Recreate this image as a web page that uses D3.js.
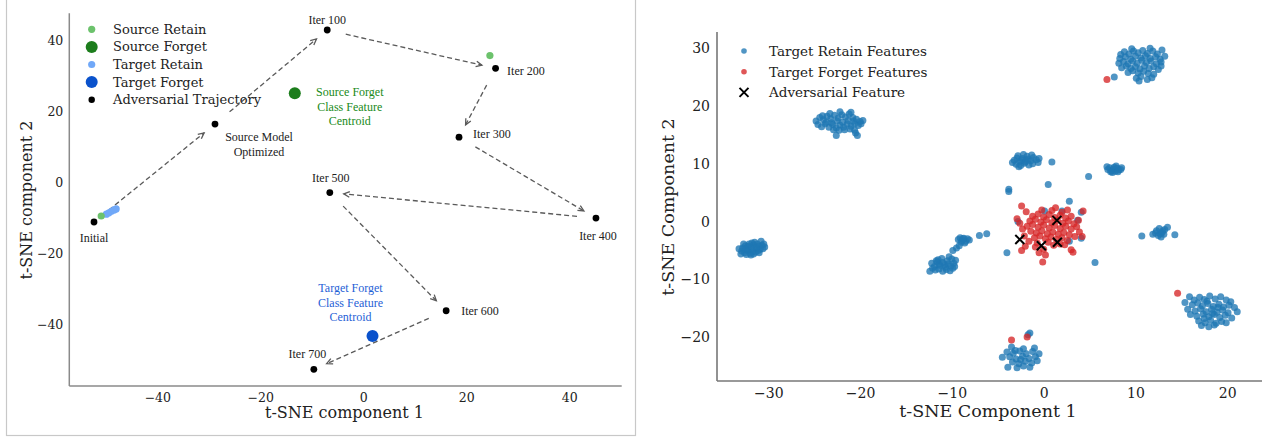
<!DOCTYPE html>
<html>
<head>
<meta charset="utf-8">
<script src="https://cdn.jsdelivr.net/npm/d3@7"></script>
<style>
  body { margin: 0; background: #fff; }
  svg { display: block; }
  text { font-family: "DejaVu Serif", serif; fill: #222; }
  .ann { font-family: "Liberation Serif", "Times New Roman", serif; font-size: 12px; }
</style>
</head>
<body>
<div id="chart"></div>
<script>
// ---------- left panel data (t-SNE coords) ----------
var trajNames = ["Initial", "Source Model Optimized", "Iter 100", "Iter 200", "Iter 300", "Iter 400", "Iter 500", "Iter 600", "Iter 700"];
var trajX = [-52.3, -28.8, -7.0, 25.7, 18.6, 45.2, -6.5, 16.1, -9.6];
var trajY = [-11.1, 16.5, 43.0, 32.2, 12.8, -10.0, -2.8, -36.1, -52.6];
var srcRetain = [[-50.9, -9.4], [24.6, 35.8]];
var tgtRetain = [[-49.9, -8.9], [-49.4, -8.5], [-48.9, -8.1], [-48.4, -7.7], [-48.0, -7.4]];
var srcForgetCentroid = [-13.3, 25.2];
var tgtForgetCentroid = [1.8, -43.2];
var leftTicks = [-40, -20, 0, 20, 40];
var leftLegend = ["Source Retain", "Source Forget", "Target Retain", "Target Forget", "Adversarial Trajectory"];

// ---------- right panel data ----------
var retainFeatures = [
  // cluster at (-32,-4.5)
  [-32.8,-4.6],[-32.5,-4.2],[-32.2,-4.9],[-31.9,-4.4],[-31.6,-4.0],[-31.3,-4.7],[-31.0,-4.3],[-30.7,-4.1],[-30.4,-4.4],
  [-32.9,-5.1],[-32.6,-5.4],[-32.3,-5.0],[-32.0,-5.5],[-31.7,-5.2],[-31.4,-5.3],[-31.2,-3.9],[-31.5,-3.6],[-31.8,-3.7],
  [-32.1,-3.9],[-30.8,-3.4],[-33.2,-4.7],[-33.0,-5.6],[-32.4,-5.7],[-31.9,-5.8],[-31.1,-5.0],[-30.9,-4.8],[-32.7,-3.9],
  [-31.3,-4.5],[-31.8,-4.8],[-32.2,-4.3],[-30.5,-3.9],[-31.6,-5.6],[-32.5,-4.8],[-31.0,-5.4],[-30.6,-4.7],
  // cluster at (-22,17)
  [-24.8,17.4],[-24.4,18.0],[-24.0,17.6],[-23.6,18.2],[-23.2,17.8],[-22.8,18.4],[-22.4,17.9],[-22.0,18.5],[-21.6,18.1],
  [-21.2,18.6],[-20.8,18.0],[-20.4,17.7],[-20.0,17.3],[-19.7,17.5],[-24.6,16.8],[-24.2,16.4],[-23.8,16.9],[-23.4,16.3],
  [-23.0,16.8],[-22.6,16.2],[-22.2,16.7],[-21.8,16.3],[-21.4,16.9],[-21.0,16.5],[-20.6,16.9],[-20.2,16.6],[-23.7,17.2],
  [-23.1,17.1],[-22.5,17.4],[-21.9,17.2],[-21.3,17.5],[-20.7,17.4],[-22.9,15.9],[-22.3,15.8],[-21.7,15.9],[-21.1,16.0],
  [-20.6,15.8],[-20.5,15.3],[-20.3,14.9],[-22.6,14.9],[-21.0,18.9],[-22.2,19.0],[-23.3,18.7],[-24.1,18.3],[-19.9,16.9],
  // cluster at (10,27.5)
  [8.4,28.9],[8.8,29.4],[9.3,29.0],[9.8,29.5],[10.3,29.2],[10.8,29.6],[11.3,29.1],[11.9,29.5],[12.4,29.0],[8.3,28.2],
  [8.9,28.5],[9.5,28.1],[10.0,28.6],[10.6,28.3],[11.1,28.7],[11.6,28.2],[12.2,28.5],[12.7,28.1],[8.2,27.4],[8.7,27.7],
  [9.2,27.3],[9.7,27.8],[10.2,27.4],[10.7,27.9],[11.2,27.5],[11.7,27.8],[12.3,27.3],[12.8,27.6],[8.5,26.6],[9.0,26.9],
  [9.5,26.5],[10.0,26.8],[10.5,26.4],[11.0,26.9],[11.5,26.5],[12.0,26.8],[12.5,26.3],[9.2,25.8],[9.7,26.1],[10.3,25.7],
  [10.9,26.0],[11.4,25.6],[12.0,25.5],[10.1,24.8],[10.6,25.1],[11.3,24.6],[10.4,24.3],[11.8,24.9],[7.7,25.0],[9.6,29.9],
  [11.6,30.0],[12.9,29.7],[13.2,28.6],[12.8,26.9],
  // cluster at (-2,10.5)
  [-3.2,10.6],[-2.9,11.0],[-2.6,10.4],[-2.3,10.9],[-2.0,10.3],[-1.7,10.8],[-1.4,10.5],[-1.1,11.1],[-0.8,10.7],[-0.5,10.9],
  [-3.0,9.9],[-2.5,9.7],[-2.1,10.1],[-1.6,9.8],[-1.2,10.0],[-2.8,11.4],[-2.2,11.6],[-1.8,11.3],[-1.3,11.5],[-3.4,10.2],
  [-0.6,10.2],[-2.4,10.6],[-1.9,10.6],[-2.7,9.5],[0.9,10.3],
  // tight cluster at (7.6,9)
  [7.0,9.0],[7.2,9.3],[7.4,8.8],[7.6,9.1],[7.8,8.7],[8.0,9.2],[8.2,8.9],[8.4,9.0],[7.3,8.6],[7.7,9.4],[7.9,9.6],[7.5,8.5],
  [8.1,8.6],[8.5,9.3],[6.9,9.5],
  // cluster at (-11,-7.5)
  [-12.2,-7.2],[-11.9,-7.8],[-11.6,-7.0],[-11.3,-7.6],[-11.0,-7.1],[-10.7,-7.9],[-10.4,-7.3],[-10.1,-7.7],[-9.8,-7.2],
  [-11.8,-8.4],[-11.4,-8.2],[-11.0,-8.6],[-10.6,-8.3],[-10.2,-8.5],[-9.9,-8.1],[-12.1,-8.1],[-11.5,-6.6],[-11.1,-6.4],
  [-10.5,-6.8],[-10.0,-6.5],[-9.7,-7.8],[-10.8,-7.5],[-11.4,-7.4],[-12.4,-8.6],[-10.3,-6.1],[-9.6,-6.7],[-11.7,-6.8],
  [-9.9,-5.0],[-9.5,-4.6],
  // small cluster at (-8.8,-3.3)
  [-9.3,-3.1],[-9.1,-2.8],[-8.9,-3.3],[-8.7,-2.9],[-8.5,-3.4],[-8.3,-3.0],[-8.1,-3.2],[-9.0,-3.6],[-8.6,-3.7],[-9.2,-4.2],
  [-8.8,-3.0],[-7.0,-2.4],[-6.2,-2.1],
  // cluster at (13,-2)
  [10.7,-2.5],[11.9,-2.2],[12.3,-1.6],[12.6,-1.2],[12.9,-1.9],[13.2,-1.4],[12.5,-2.4],[12.8,-2.7],[13.1,-2.2],[13.5,-1.0],
  [14.3,-2.3],[12.2,-2.0],[13.0,-1.6],[12.7,-2.1],
  // cluster at (18.5,-15.3)
  [15.9,-13.0],[16.4,-13.6],[17.0,-13.1],[17.5,-13.5],[18.1,-12.9],[18.7,-13.4],[19.3,-13.0],[19.9,-13.6],[20.4,-13.9],
  [16.2,-14.4],[16.8,-14.1],[17.3,-14.6],[17.9,-14.2],[18.5,-14.7],[19.1,-14.3],[19.6,-14.8],[20.2,-14.5],[20.8,-14.9],
  [15.7,-15.2],[16.5,-15.5],[17.1,-15.1],[17.7,-15.6],[18.3,-15.2],[18.9,-15.7],[19.5,-15.3],[20.1,-15.8],[21.1,-15.6],
  [16.0,-16.1],[16.7,-16.4],[17.4,-16.0],[18.0,-16.5],[18.6,-16.1],[19.2,-16.6],[19.8,-16.2],[20.5,-16.7],[16.9,-17.2],
  [17.6,-17.5],[18.2,-17.1],[18.8,-17.6],[19.4,-17.3],[17.2,-18.0],[18.0,-18.2],[18.6,-17.9],[19.9,-17.5],[15.4,-14.0],
  [17.8,-13.8],[18.4,-15.9],[19.0,-14.9],[17.5,-16.8],
  // cluster at (-2,-23.5)
  [-1.5,-19.3],[-1.7,-19.6],[-3.5,-21.7],[-2.2,-22.0],[-1.0,-21.9],[-4.0,-22.6],[-3.3,-22.8],[-2.6,-22.4],[-1.9,-22.9],
  [-1.2,-22.5],[-0.5,-22.9],[-4.5,-23.5],[-3.7,-23.4],[-3.0,-23.8],[-2.3,-23.3],[-1.6,-23.7],[-0.9,-23.4],[-3.4,-24.3],
  [-2.7,-24.6],[-2.0,-24.2],[-1.3,-24.5],[-0.7,-24.1],[-3.9,-25.2],[-2.9,-25.3],[-2.2,-25.0],[-1.5,-25.2],[-2.5,-23.9],
  [-3.1,-22.3],
  // scattered near the centre
  [-3.8,5.6],[-3.8,5.2],[0.5,6.4],[2.8,3.5],[4.9,7.8],[0.1,1.8],[2.0,1.8],[4.1,1.6],[-2.8,0.0],[3.7,0.2],[4.1,-2.9],
  [2.8,-3.4],[-4.0,-5.4],[5.6,-7.1]
];
var forgetFeatures = [
  [-2.4,2.7],[4.3,1.8],[-0.1,-7.0],[-2.4,-5.0],[-2.0,-4.3],[0.2,-5.8],[3.2,-5.3],[3.0,-4.9],[1.8,-3.9],
  [-1.2,0.9],[-0.6,1.3],[0.0,0.8],[0.6,1.2],[1.2,0.7],[1.8,1.1],[2.4,0.6],[-1.5,0.1],[-0.9,0.4],[-0.3,-0.1],[0.3,0.3],
  [0.9,-0.2],[1.5,0.2],[2.1,-0.3],[2.7,0.1],[3.3,-0.4],[-1.8,-0.8],[-1.2,-0.5],[-0.6,-1.0],[0.0,-0.6],[0.6,-1.1],
  [1.2,-0.7],[1.8,-1.2],[2.4,-0.8],[3.0,-1.3],[3.6,-0.9],[-1.4,-1.7],[-0.8,-2.0],[-0.2,-1.6],[0.4,-2.1],[1.0,-1.8],
  [1.6,-2.2],[2.2,-1.9],[2.8,-2.3],[-2.1,-2.5],[-1.0,-2.8],[-0.4,-2.5],[0.2,-3.0],[0.8,-2.7],[1.4,-3.1],[2.0,-2.8],
  [2.6,-3.3],[-1.6,-3.4],[-0.7,-3.7],[0.5,-3.6],[1.1,-4.1],[2.3,-4.0],[-1.9,1.7],[-0.2,2.0],[0.9,1.9],[2.0,1.6],
  [3.0,0.9],[3.8,0.2],[3.9,-1.8],[4.2,-2.6],[3.4,-2.6],[-2.3,-1.3],[-2.6,-0.3],[-0.9,-4.4],[0.0,-4.8],[-2.9,0.5],
  [1.3,2.4],[2.6,2.0],[-0.5,-5.4],
  // stray forget points next to retain clusters
  [6.9,24.6],[14.6,-12.4],[-3.5,-20.5],[-1.8,-20.0]
];
var adversarial = [[1.45,0.2],[-2.6,-3.1],[-0.25,-4.2],[1.5,-3.6]];
var rightXTicks = [-30, -20, -10, 0, 10, 20];
var rightYTicks = [-20, -10, 0, 10, 20, 30];
var rightLegend = ["Target Retain Features", "Target Forget Features", "Adversarial Feature"];

var width = 1262, height = 437;
var svg = d3.select("#chart").append("svg")
    .attr("width", width).attr("height", height)
    .attr("viewBox", "0 0 " + width + " " + height)

// ===================== LEFT PANEL =====================
var L = svg.append("g")

// figure frame
L.append("rect")
    .attr("x", 6.5).attr("y", -2).attr("width", 629).attr("height", 437.5)
    .attr("fill", "none").attr("stroke", "#c8c8c8").attr("stroke-width", 1.2)

var lx = d3.scaleLinear().domain([-57.1, 50.2]).range([69.3, 621.7])
var ly = d3.scaleLinear().domain([-57.3, 47.7]).range([386, 13.3])

var green = "#6cc26c", dgreen = "#1c7d1c", lblue = "#70a8f8", dblue = "#0a52cc"

L.append("g").attr("transform", "translate(0,386)")
    .call(d3.axisBottom(lx).tickValues(leftTicks).tickSize(0).tickPadding(7))
    .call(function(g){ g.select(".domain").remove() })
    .selectAll("text").style("font-size", "12.5px").style("font-family", "DejaVu Serif").attr("fill", "#222")
L.append("g").attr("transform", "translate(69.3,0)")
    .call(d3.axisLeft(ly).tickValues(leftTicks).tickSize(0).tickPadding(6))
    .call(function(g){ g.select(".domain").remove() })
    .selectAll("text").style("font-size", "12.5px").style("font-family", "DejaVu Serif").attr("fill", "#222")

// spines
L.append("line").attr("x1", 69.3).attr("x2", 69.3).attr("y1", 13.3).attr("y2", 386)
    .attr("stroke", "#8a8a8a").attr("stroke-width", 1.5)
L.append("line").attr("x1", 69.3).attr("x2", 621.7).attr("y1", 386).attr("y2", 386)
    .attr("stroke", "#8a8a8a").attr("stroke-width", 1.5)

L.append("text").attr("x", 344.5).attr("y", 418).attr("text-anchor", "middle")
    .style("font-size", "16px").text("t-SNE component 1")
L.append("text").attr("transform", "translate(32,200) rotate(-90)").attr("text-anchor", "middle")
    .style("font-size", "16px").text("t-SNE component 2")

// trajectory arrows
var traj = trajNames.map(function(n, i){ return {name: n, x: trajX[i], y: trajY[i]} })
var shrinkA = 19, shrinkB = 14
for (var i = 0; i < traj.length - 1; i++) {
    var x1 = lx(traj[i].x), y1 = ly(traj[i].y), x2 = lx(traj[i+1].x), y2 = ly(traj[i+1].y)
    var dx = x2 - x1, dy = y2 - y1, len = Math.sqrt(dx*dx + dy*dy), ux = dx/len, uy = dy/len
    var sx = x1 + ux*shrinkA, sy = y1 + uy*shrinkA, ex = x2 - ux*shrinkB, ey = y2 - uy*shrinkB
    L.append("line").attr("x1", sx).attr("y1", sy).attr("x2", ex).attr("y2", ey)
        .attr("stroke", "#5a5a5a").attr("stroke-width", 1.3).attr("stroke-dasharray", "5,3")
    var ang = Math.atan2(uy, ux), hl = 6.5, ha = 0.45
    L.append("path")
        .attr("d", "M" + (ex - hl*Math.cos(ang - ha)) + "," + (ey - hl*Math.sin(ang - ha)) +
                   "L" + ex + "," + ey +
                   "L" + (ex - hl*Math.cos(ang + ha)) + "," + (ey - hl*Math.sin(ang + ha)))
        .attr("fill", "none").attr("stroke", "#5a5a5a").attr("stroke-width", 1.3)
}

// scatter marks
L.selectAll(".tr").data(tgtRetain).enter().append("circle")
    .attr("cx", function(d){ return lx(d[0]) }).attr("cy", function(d){ return ly(d[1]) })
    .attr("r", 3.6).attr("fill", lblue)
L.selectAll(".sr").data(srcRetain).enter().append("circle")
    .attr("cx", function(d){ return lx(d[0]) }).attr("cy", function(d){ return ly(d[1]) })
    .attr("r", 3.6).attr("fill", green)
L.append("circle").attr("cx", lx(srcForgetCentroid[0])).attr("cy", ly(srcForgetCentroid[1]))
    .attr("r", 6).attr("fill", dgreen)
L.append("circle").attr("cx", lx(tgtForgetCentroid[0])).attr("cy", ly(tgtForgetCentroid[1]))
    .attr("r", 6).attr("fill", dblue)
L.selectAll(".traj").data(traj).enter().append("circle")
    .attr("cx", function(d){ return lx(d.x) }).attr("cy", function(d){ return ly(d.y) })
    .attr("r", 3.4).attr("fill", "#000")

// trajectory labels: [dx, dy, anchor] per point
var labelPos = [[0, 20, "middle"], [44, 17, "middle"], [0, -5.5, "middle"], [11.5, 7, "start"], [14, 1, "start"],
                [2, 22, "middle"], [1, -10.5, "middle"], [15, 4, "start"], [-6.5, -11, "middle"]]
traj.forEach(function(d, i){
    var p = labelPos[i]
    var t = L.append("text").attr("class", "ann").attr("text-anchor", p[2])
        .attr("x", lx(d.x) + p[0]).attr("y", ly(d.y) + p[1]).attr("fill", "#111")
    if (d.name === "Source Model Optimized") {
        t.append("tspan").attr("x", lx(d.x) + p[0]).text("Source Model")
        t.append("tspan").attr("x", lx(d.x) + p[0]).attr("dy", 14.5).text("Optimized")
    } else {
        t.text(d.name)
    }
})

function centroidLabel(c, dx, dy, color, words) {
    var t = L.append("text").attr("class", "ann").attr("text-anchor", "middle")
        .attr("x", lx(c[0]) + dx).attr("y", ly(c[1]) + dy).style("fill", color)
    words.forEach(function(w, k){
        t.append("tspan").attr("x", lx(c[0]) + dx).attr("dy", k === 0 ? 0 : 14.5).text(w)
    })
}
centroidLabel(srcForgetCentroid, 55, 3, "#208a20", ["Source Forget", "Class Feature", "Centroid"])
centroidLabel(tgtForgetCentroid, -22, -43.5, "#1f5fd6", ["Target Forget", "Class Feature", "Centroid"])

// legend
var legColors = [green, dgreen, lblue, dblue, "#000"]
var legR = [3.6, 6, 3.6, 6, 3.2]
var lg = L.append("g")
leftLegend.forEach(function(name, i){
    var yy = 29.3 + i*17.6
    lg.append("circle").attr("cx", 91.7).attr("cy", yy).attr("r", legR[i]).attr("fill", legColors[i])
    lg.append("text").attr("x", 113).attr("y", yy + 4.5).style("font-size", "13px").text(name)
})

// ===================== RIGHT PANEL =====================
var R = svg.append("g")
var rx = d3.scaleLinear().domain([-35.6, 23.8]).range([717, 1262])
var ry = d3.scaleLinear().domain([-27.6, 32.8]).range([381, 32])

R.append("g").attr("transform", "translate(0,381)")
    .call(d3.axisBottom(rx).tickValues(rightXTicks).tickSize(0).tickPadding(7.5))
    .call(function(g){ g.select(".domain").remove() })
    .selectAll("text").style("font-size", "14px").style("font-family", "DejaVu Serif").attr("fill", "#222")
R.append("g").attr("transform", "translate(717,0)")
    .call(d3.axisLeft(ry).tickValues(rightYTicks).tickSize(0).tickPadding(7))
    .call(function(g){ g.select(".domain").remove() })
    .selectAll("text").style("font-size", "14px").style("font-family", "DejaVu Serif").attr("fill", "#222")

R.append("line").attr("x1", 717).attr("x2", 717).attr("y1", 32).attr("y2", 381)
    .attr("stroke", "#777").attr("stroke-width", 1.6)
R.append("line").attr("x1", 717).attr("x2", 1262).attr("y1", 381).attr("y2", 381)
    .attr("stroke", "#777").attr("stroke-width", 1.6)

R.append("text").attr("x", 988).attr("y", 416.5).attr("text-anchor", "middle")
    .style("font-size", "17.5px").text("t-SNE Component 1")
R.append("text").attr("transform", "translate(674,207) rotate(-90)").attr("text-anchor", "middle")
    .style("font-size", "17.5px").text("t-SNE Component 2")

var blue = "#1f77b4", red = "#d62728"
R.selectAll(".ret").data(retainFeatures).enter().append("circle")
    .attr("cx", function(d){ return rx(d[0]) }).attr("cy", function(d){ return ry(d[1]) })
    .attr("r", 3.5).attr("fill", blue).attr("fill-opacity", 0.78)
R.selectAll(".fgt").data(forgetFeatures).enter().append("circle")
    .attr("cx", function(d){ return rx(d[0]) }).attr("cy", function(d){ return ry(d[1]) })
    .attr("r", 3.5).attr("fill", red).attr("fill-opacity", 0.78)

function xMark(g, cx, cy, s) {
    g.append("path")
        .attr("d", "M" + (cx - s) + "," + (cy - s) + "L" + (cx + s) + "," + (cy + s) +
                   "M" + (cx - s) + "," + (cy + s) + "L" + (cx + s) + "," + (cy - s))
        .attr("stroke", "#000").attr("stroke-width", 2)
}
adversarial.forEach(function(d){ xMark(R, rx(d[0]), ry(d[1]), 4.5) })

var rg = R.append("g")
rightLegend.forEach(function(name, i){
    var yy = 51 + i*20.7
    if (i === 0) rg.append("circle").attr("cx", 744).attr("cy", yy).attr("r", 2.8).attr("fill", blue).attr("fill-opacity", 0.78)
    if (i === 1) rg.append("circle").attr("cx", 744).attr("cy", yy).attr("r", 2.8).attr("fill", red).attr("fill-opacity", 0.78)
    if (i === 2) xMark(rg, 744, yy, 4.5)
    rg.append("text").attr("x", 769).attr("y", yy + 4.8).style("font-size", "13.5px").text(name)
})
</script>
</body>
</html>
